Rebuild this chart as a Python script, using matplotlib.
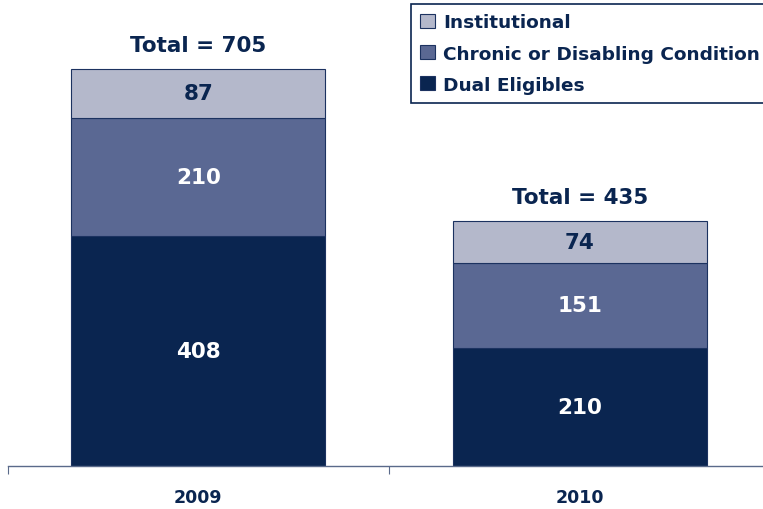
import numpy as np
import matplotlib
matplotlib.use("Agg")
import matplotlib.pyplot as plt
from matplotlib.patches import Patch

years = ["2009", "2010"]
dual = [408, 210]
chronic = [210, 151]
institutional = [87, 74]
series_names = ["Institutional", "Chronic or Disabling Condition", "Dual Eligibles"]

NAVY = "#0a2550"
MID = "#5a6893"
LIGHT = "#b4b8cb"


def plot():
	plt.rcParams['font.family'] = ['DejaVu Sans']
	fig = plt.figure(figsize=(7.63, 5.10), dpi=100)
	# axes runs a bit past the right edge of the figure, as in the original
	ax = fig.add_axes([7.5 / 763, 43 / 510, 763 / 763, 467 / 510])
	x = np.arange(len(years))
	w = 0.666
	edge = dict(edgecolor="#1c3260", linewidth=0.8)
	ax.bar(x, dual, w, color=NAVY, **edge)
	ax.bar(x, chronic, w, bottom=dual, color=MID, **edge)
	bottom2 = np.array(dual) + np.array(chronic)
	ax.bar(x, institutional, w, bottom=bottom2, color=LIGHT, **edge)

	for i in range(len(years)):
		ax.text(x[i], dual[i] / 2, str(dual[i]), ha="center", va="center",
			color="white", fontsize=15.5, fontweight="bold")
		ax.text(x[i], dual[i] + chronic[i] / 2, str(chronic[i]), ha="center", va="center",
			color="white", fontsize=15.5, fontweight="bold")
		ax.text(x[i], bottom2[i] + institutional[i] / 2, str(institutional[i]), ha="center",
			va="center", color=NAVY, fontsize=15.5, fontweight="bold")
		total = dual[i] + chronic[i] + institutional[i]
		ax.text(x[i], total + 25, "Total = %d" % total, ha="center", va="bottom",
			color=NAVY, fontsize=15.5, fontweight="bold")

	ax.set_xlim(-0.5, 1.5)
	ax.set_ylim(0, 829)
	ax.set_xticks([-0.5, 0.5, 1.5])
	ax.set_xticklabels([])
	ax.set_xticks(x, minor=True)
	ax.set_xticklabels(years, minor=True, fontsize=12.5, fontweight="bold", color=NAVY)
	ax.tick_params(axis="x", which="minor", length=0, pad=16)
	ax.tick_params(axis="x", which="major", length=6, color="#5a6a8a", direction="out")
	ax.set_yticks([])
	for s in ["top", "right", "left"]:
		ax.spines[s].set_visible(False)
	ax.spines["bottom"].set_color("#5a6a8a")
	ax.spines["bottom"].set_linewidth(1)

	handles = [Patch(facecolor=LIGHT, edgecolor="#1c3260", linewidth=0.8),
		Patch(facecolor=MID, edgecolor="#1c3260", linewidth=0.8),
		Patch(facecolor=NAVY, edgecolor="#1c3260", linewidth=0.8)]
	leg = fig.legend(handles, series_names, loc="upper left",
		bbox_to_anchor=(411 / 763, 1 - 5 / 510), borderaxespad=0,
		fancybox=False, framealpha=1, handlelength=0.8, handleheight=0.8,
		handletextpad=0.45, labelspacing=0.72, borderpad=0.5,
		prop=dict(size=13.3, weight="bold"))
	leg.get_frame().set_edgecolor(NAVY)
	leg.get_frame().set_linewidth(1.2)
	for t in leg.get_texts():
		t.set_color(NAVY)

	fig.savefig("out.png", dpi=100)


def main():
	plot()


if __name__ == '__main__':
	main()
